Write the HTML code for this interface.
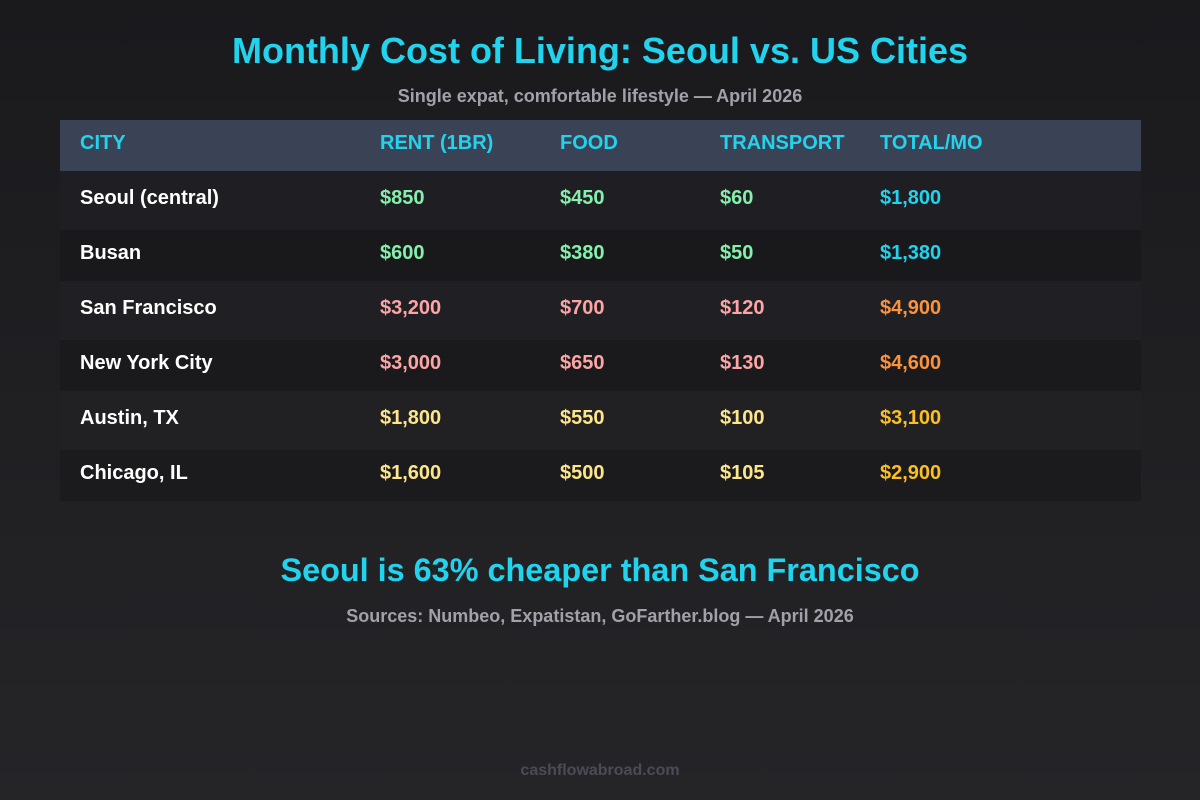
<!DOCTYPE html>
<html>
<head>
<meta charset="utf-8">
<style>
  html, body { margin:0; padding:0; }
  body {
    width:1200px; height:800px; position:relative; overflow:hidden;
    background: linear-gradient(to bottom, #1a1a1d 0%, #252528 100%);
    font-family: "Liberation Sans", Arial, sans-serif; font-weight:bold;
  }
  .t { position:absolute; white-space:nowrap; line-height:1; }
  .c { left:0; width:1200px; text-align:center; }
  .bg { position:absolute; left:60px; width:1081px; }
  .hdr { color:#22d3ee; font-size:20px; }
  .cell { font-size:20px; }
  .w { color:#ffffff; }
  .g { color:#86efac; }
  .r { color:#fca5a5; }
  .y { color:#fde68a; }
  .cy { color:#22d3ee; }
  .or { color:#fb923c; }
  .am { color:#fbbf24; }
</style>
</head>
<body>
  <div class="t c" style="top:32.5px; font-size:36px; color:#22d3ee;">Monthly Cost of Living: Seoul vs. US Cities</div>
  <div class="t c" style="top:86.8px; font-size:18px; color:#a1a1aa;">Single expat, comfortable lifestyle — April 2026</div>

  <div class="bg" style="top:120px; height:51px; background:#394355;"></div>
  <div class="bg" style="top:171px; height:59px; background:#1f1f23;"></div>
  <div class="bg" style="top:230px; height:51px; background:#19191c;"></div>
  <div class="bg" style="top:281px; height:59px; background:#201f23;"></div>
  <div class="bg" style="top:340px; height:51px; background:#1a1a1d;"></div>
  <div class="bg" style="top:391px; height:59px; background:#212124;"></div>
  <div class="bg" style="top:450px; height:51px; background:#1b1b1e;"></div>

  <div class="t hdr" style="top:133px; left:80px;">CITY</div>
  <div class="t hdr" style="top:133px; left:380px;">RENT (1BR)</div>
  <div class="t hdr" style="top:133px; left:560px;">FOOD</div>
  <div class="t hdr" style="top:133px; left:720px;">TRANSPORT</div>
  <div class="t hdr" style="top:133px; left:880px;">TOTAL/MO</div>

  <div class="t cell w" style="top:188px; left:80px;">Seoul (central)</div>
  <div class="t cell g" style="top:188px; left:380px;">$850</div>
  <div class="t cell g" style="top:188px; left:560px;">$450</div>
  <div class="t cell g" style="top:188px; left:720px;">$60</div>
  <div class="t cell cy" style="top:188px; left:880px;">$1,800</div>

  <div class="t cell w" style="top:243px; left:80px;">Busan</div>
  <div class="t cell g" style="top:243px; left:380px;">$600</div>
  <div class="t cell g" style="top:243px; left:560px;">$380</div>
  <div class="t cell g" style="top:243px; left:720px;">$50</div>
  <div class="t cell cy" style="top:243px; left:880px;">$1,380</div>

  <div class="t cell w" style="top:298px; left:80px;">San Francisco</div>
  <div class="t cell r" style="top:298px; left:380px;">$3,200</div>
  <div class="t cell r" style="top:298px; left:560px;">$700</div>
  <div class="t cell r" style="top:298px; left:720px;">$120</div>
  <div class="t cell or" style="top:298px; left:880px;">$4,900</div>

  <div class="t cell w" style="top:353px; left:80px;">New York City</div>
  <div class="t cell r" style="top:353px; left:380px;">$3,000</div>
  <div class="t cell r" style="top:353px; left:560px;">$650</div>
  <div class="t cell r" style="top:353px; left:720px;">$130</div>
  <div class="t cell or" style="top:353px; left:880px;">$4,600</div>

  <div class="t cell w" style="top:408px; left:80px;">Austin, TX</div>
  <div class="t cell y" style="top:408px; left:380px;">$1,800</div>
  <div class="t cell y" style="top:408px; left:560px;">$550</div>
  <div class="t cell y" style="top:408px; left:720px;">$100</div>
  <div class="t cell am" style="top:408px; left:880px;">$3,100</div>

  <div class="t cell w" style="top:463px; left:80px;">Chicago, IL</div>
  <div class="t cell y" style="top:463px; left:380px;">$1,600</div>
  <div class="t cell y" style="top:463px; left:560px;">$500</div>
  <div class="t cell y" style="top:463px; left:720px;">$105</div>
  <div class="t cell am" style="top:463px; left:880px;">$2,900</div>

  <div class="t c" style="top:553.6px; font-size:32.4px; color:#22d3ee;">Seoul is 63% cheaper than San Francisco</div>
  <div class="t c" style="top:606.8px; font-size:18px; color:#a1a1aa;">Sources: Numbeo, Expatistan, GoFarther.blog — April 2026</div>
  <div class="t c" style="top:763px; font-size:16px; color:#4b4b55;">cashflowabroad.com</div>
</body>
</html>
